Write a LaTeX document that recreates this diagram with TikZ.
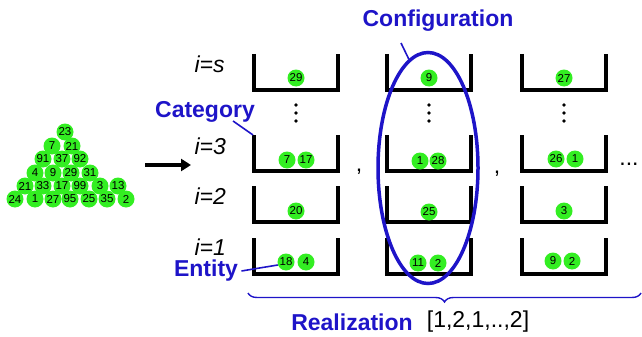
\documentclass[tikz,border=0pt]{standalone}
\usepackage{fontspec}
\setmainfont{Liberation Sans}
\usetikzlibrary{arrows.meta,shapes.geometric,decorations.pathreplacing}
\definecolor{ballgreen}{RGB}{51,238,34}
\definecolor{catblue}{RGB}{30,20,200}

\begin{document}
\begin{tikzpicture}[x=1pt,y=-1pt,
    ball/.style={circle,fill=ballgreen,inner sep=0pt,minimum size=17pt,font=\fontsize{11.5}{11.5}\selectfont},
    bucket/.style={line width=3.5pt},
    tag/.style={font=\fontsize{23}{23}\selectfont\bfseries,text=catblue},
    rowlbl/.style={font=\fontsize{23}{23}\selectfont\itshape,anchor=west},
    big/.style={font=\fontsize{23}{23}\selectfont},
    lead/.style={catblue,line width=1.6pt}]
      \useasboundingbox (0,0) rectangle (642,337);
      % the pool of entities
      \foreach \x/\y/\n [count=\k] in {65/132/23,
          52/146/7, 72/146/21,
          43/159/91, 62/159/37, 80/159/92,
          35/173/4, 53/173/9, 71/173/29, 90/173/31,
          25/186/21, 43/186/33, 62/186/17, 80/186/99, 100/186/3, 118/186/13,
          15/199/24, 35/199/1, 53/199/27, 70/199/95, 89/199/25, 107/199/35, 126/199/2}
        \node[ball] (p\k) at (\x,\y) {\n};
      \coordinate (arrS) at (145,165);
      \coordinate (arrE) at (191,165);
      \draw[-{Triangle[length=10pt,width=12pt]},line width=4pt] (arrS) -- (arrE);
      % categories
      \node[rowlbl] (rs) at (191,64) {i=s};
      \node[rowlbl] (r3) at (191,146) {i=3};
      \node[rowlbl] (r2) at (191,196) {i=2};
      \node[rowlbl] (r1) at (191,247) {i=1};
      \foreach \c in {254,387,522}
        \foreach \t in {54,135,186,238}
          \draw[bucket] (\c,\t) -- (\c,\t+36) -- (\c+84,\t+36) -- (\c+84,\t);
      \foreach \c in {296,429,564}
        \foreach \d in {0,1,2}
          \fill (\c,105+8*\d) circle (1.8);
      % entities in the buckets
      \node[ball] (b29) at (296,78) {29};
      \node[ball] (b7) at (287,160) {7};
      \node[ball] (b17) at (306,160) {17};
      \node[ball] (b20) at (296,211) {20};
      \node[ball] (b18) at (286,262) {18};
      \node[ball] (b4) at (306,262) {4};
      \node[ball] (c9) at (429,78) {9};
      \node[ball] (c1) at (420,161) {1};
      \node[ball] (c28) at (438,161) {28};
      \node[ball] (c25) at (429,212) {25};
      \node[ball] (c11) at (418,263) {11};
      \node[ball] (c2) at (438,263) {2};
      \node[ball] (d27) at (564,78) {27};
      \node[ball] (d26) at (556,159) {26};
      \node[ball] (d1) at (575,159) {1};
      \node[ball] (d3) at (564,211) {3};
      \node[ball] (d9) at (553,261) {9};
      \node[ball] (d2) at (572,261) {2};
      \node[big] (cm1) at (359,172) {,};
      \node[big] (cm2) at (497,174) {,};
      \node[big] (more) at (629,164) {...};
      % labels
      \node[draw=catblue,line width=3.5pt,ellipse,minimum width=100pt,minimum height=231pt,inner sep=0pt] (conf) at (428,168) {};
      \node[tag] (cfg) at (438,21) {Configuration};
      \coordinate (cfgtail) at (401,43);
      \draw[lead] (cfgtail) -- (conf.100);
      \node[tag] (cat) at (205,112) {Category};
      \coordinate (cattail) at (233,121);
      \coordinate (cat3) at (253,135);
      \draw[lead] (cattail) -- (cat3);
      \node[tag] (ent) at (206,271) {Entity};
      \draw[lead] (ent.east) -- (b18.200);
      \coordinate (br1) at (248,293);
      \coordinate (br2) at (641,293);
      \draw[catblue,line width=1.4pt,decorate,decoration={brace,mirror,amplitude=9pt}] (br1) -- (br2);
      \node[tag] (real) at (352,322) {Realization};
      \node[big] (seq) at (478,322) {[1,2,1,..,2]};
\end{tikzpicture}
\end{document}
